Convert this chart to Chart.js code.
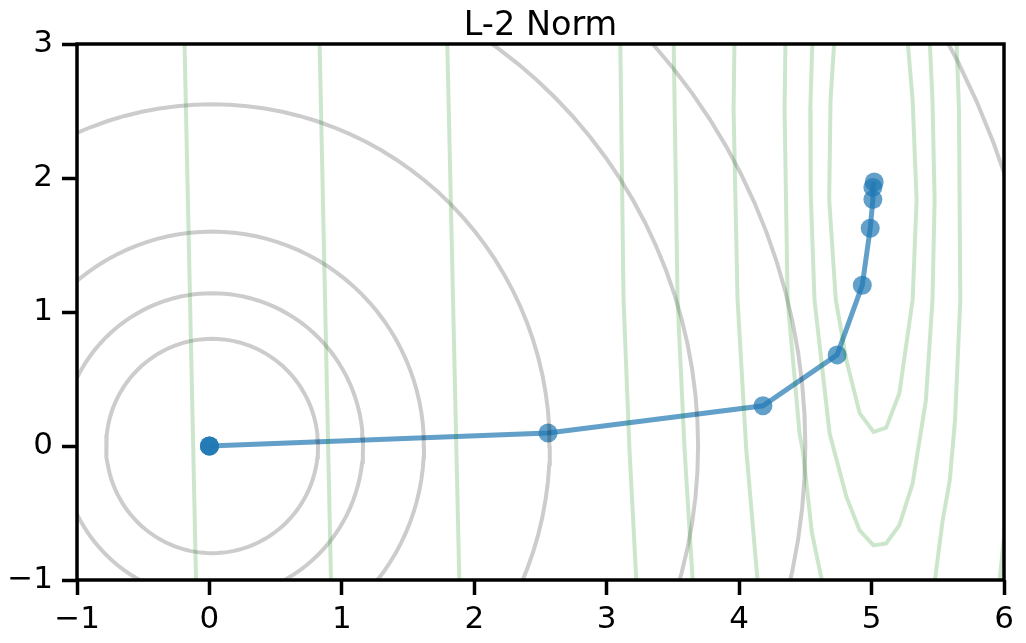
<!DOCTYPE html>
<html>
<head>
<meta charset="utf-8">
<script src="https://cdn.jsdelivr.net/npm/chart.js@4.4.1/dist/chart.umd.min.js"></script>
<style>
  html, body { margin: 0; padding: 0; background: #fff; }
  #wrap { width: 1026px; height: 643px; }
</style>
</head>
<body>
<div id="wrap"><canvas id="chart"></canvas></div>
<script>
// axis ticks
const xTicks = [-1, 0, 1, 2, 3, 4, 5, 6]
const yTicks = [-1, 0, 1, 2, 3]
const titleText = "L-2 Norm"

// gradient descent path (several steps sit on the origin)
const pathX = [0, 0, 0, 2.557, 4.18, 4.74, 4.93, 4.99, 5.01, 5.01, 5.02]
const pathY = [0, 0, 0, 0.097, 0.30, 0.68, 1.20, 1.625, 1.84, 1.93, 1.97]

// L-2 norm contours: circle radii
const normCenter = [0.02, 0]
const normRadii = [0.8, 1.14, 1.6, 2.55, 3.67, 4.48, 6.32]

// loss contours (green) as [x, y] vertices
const lossInner = [[4.72, 3.05], [4.69, 2.58], [4.68, 1.84], [4.73, 1.09], [4.81, 0.64], [4.91, 0.245], [5.015, 0.105], [5.11, 0.137], [5.21, 0.394], [5.31, 1.09], [5.34, 1.835], [5.31, 2.58], [5.27, 3.05]]
const lossSecond = [[4.554, 3.05], [4.537, 2.51], [4.54, 1.9], [4.569, 1.09], [4.683, 0.095], [4.81, -0.38], [4.91, -0.63], [5.015, -0.742], [5.11, -0.727], [5.21, -0.59], [5.31, -0.28], [5.41, 0.34], [5.46, 1.09], [5.476, 1.835], [5.46, 2.58], [5.438, 3.05]]
const lossThirdLeft = [[4.35, 3.05], [4.343, 2.51], [4.366, 1.09], [4.456, 0.095], [4.48, -0.03], [4.55, -0.65], [4.635, -1.05]]
const lossThirdRight = [[5.64, 3.05], [5.66, 2.51], [5.67, 1.09], [5.63, 0.19], [5.59, -0.26], [5.536, -0.56], [5.472, -1.05]]
const lossFourthLeft = [[3.965, 3.05], [3.958, 2.51], [3.988, 1.09], [4.054, -0.03], [4.143, -1.05]]
const lossFourthRight = [[6.03, -0.45], [6.005, -0.63], [5.967, -1.0], [5.962, -1.05]]
const lossFifth = [[3.505, 3.05], [3.535, 1.09], [3.588, -0.03], [3.652, -1.05]]
const lossSixth = [[3.102, 3.05], [3.127, 1.09], [3.172, -0.03], [3.226, -1.05]]
const lossSeventh = [[1.795, 3.05], [1.888, -1.05]]
const lossEighth = [[0.831, 3.05], [0.919, -1.05]]
const lossNinth = [[-0.189, 3.05], [-0.10, -1.05]]

const lossContours = [lossInner, lossSecond, lossThirdLeft, lossThirdRight, lossFourthLeft, lossFourthRight, lossFifth, lossSixth, lossSeventh, lossEighth, lossNinth]

const FONT = "'DejaVu Sans', sans-serif"

const toPoints = (pairs) => pairs.map(([x, y]) => ({ x, y }))

const circlePoints = (r) => {
  const pts = []
  for (let a = 0; a <= 360; a += 3) {
    const t = a * Math.PI / 180
    pts.push({ x: normCenter[0] + r * Math.cos(t), y: normCenter[1] + r * Math.sin(t) })
  }
  return pts
}

const contourLine = (data, color) => ({
  data,
  showLine: true,
  borderColor: color,
  borderWidth: 4,
  pointRadius: 0,
  tension: 0,
  fill: false,
  clip: 0
})

const datasets = [
  ...lossContours.map((c) => contourLine(toPoints(c), "rgba(0, 128, 0, 0.2)")),
  ...normRadii.map((r) => contourLine(circlePoints(r), "rgba(0, 0, 0, 0.2)")),
  {
    data: pathX.map((x, i) => ({ x, y: pathY[i] })),
    showLine: true,
    borderColor: "rgba(31, 119, 180, 0.7)",
    backgroundColor: "rgba(31, 119, 180, 0.7)",
    borderWidth: 5,
    pointRadius: 9.5,
    pointBorderWidth: 0,
    pointHoverRadius: 9.5,
    tension: 0,
    clip: 0
  }
]

// box around the plot and the title centred over it
const frame = {
  id: "frame",
  afterDatasetsDraw(chart) {
    const { ctx, chartArea: a } = chart
    ctx.save()
    ctx.strokeStyle = "#000"
    ctx.lineWidth = 3.5
    ctx.strokeRect(a.left, a.top, a.right - a.left, a.bottom - a.top)
    ctx.fillStyle = "#000"
    ctx.font = `33.5px ${FONT}`
    ctx.textAlign = "center"
    ctx.textBaseline = "alphabetic"
    ctx.fillText(titleText, (a.left + a.right) / 2, 35)
    ctx.restore()
  }
}

const tickLabel = (v) => (v < 0 ? "\u2212" + Math.abs(v) : String(v))

new Chart(document.getElementById("chart"), {
  type: "scatter",
  data: { datasets },
  plugins: [frame],
  options: {
    responsive: true,
    maintainAspectRatio: false,
    animation: false,
    events: [],
    layout: { padding: { left: 0, right: 22, top: 44, bottom: 0 } },
    plugins: {
      legend: { display: false },
      tooltip: { enabled: false },
      title: { display: false }
    },
    scales: {
      x: {
        type: "linear",
        min: -1,
        max: 6,
        afterBuildTicks: (s) => { s.ticks = xTicks.map((v) => ({ value: v })) },
        afterFit: (s) => { s.height = 63 },
        ticks: { color: "#000", font: { family: FONT, size: 31 }, padding: 6, callback: tickLabel, maxRotation: 0 },
        grid: { drawOnChartArea: false, drawTicks: true, tickLength: 15, tickWidth: 3.5, tickColor: "#000" },
        border: { display: false }
      },
      y: {
        type: "linear",
        min: -1,
        max: 3,
        afterBuildTicks: (s) => { s.ticks = yTicks.map((v) => ({ value: v })) },
        afterFit: (s) => { s.width = 77 },
        ticks: { color: "#000", font: { family: FONT, size: 31 }, padding: 9, callback: tickLabel },
        grid: { drawOnChartArea: false, drawTicks: true, tickLength: 15, tickWidth: 3.5, tickColor: "#000" },
        border: { display: false }
      }
    }
  }
})
</script>
</body>
</html>
